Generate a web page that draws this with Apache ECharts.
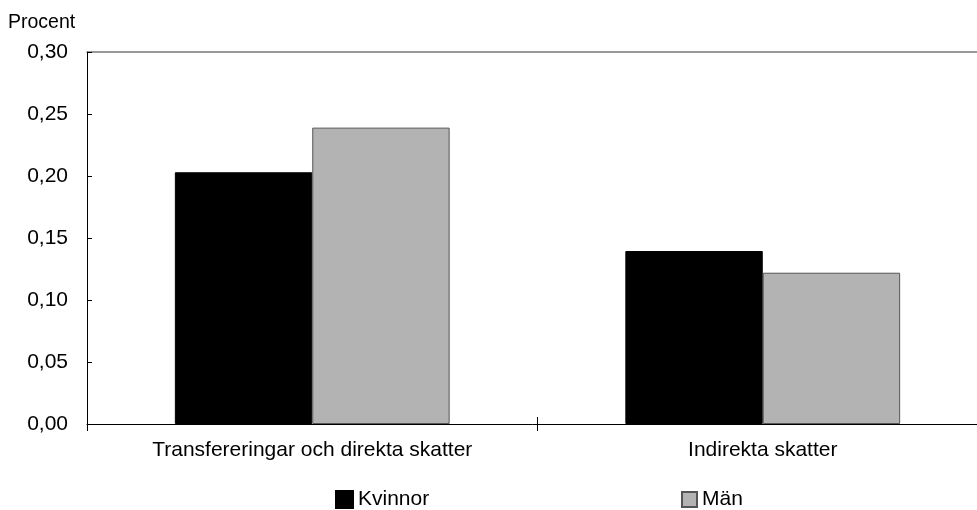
<!DOCTYPE html>
<html><head><meta charset="utf-8">
<script src="https://cdn.jsdelivr.net/npm/echarts@6/dist/echarts.min.js"></script>
<style>html,body{margin:0;padding:0;background:#fff}#c{width:977px;height:510px}</style>
</head><body><div id="c"></div>
<script>
const categories = ['Transfereringar och direkta skatter', 'Indirekta skatter'];
const kvinnor = [0.203, 0.1395];
const man = [0.239, 0.122];
const seriesNames = ['Kvinnor', 'Män'];
const yTicks = [0, 0.05, 0.10, 0.15, 0.20, 0.25, 0.30];

const FONT = '"Liberation Sans", Arial, sans-serif';
const chart = echarts.init(document.getElementById('c'));
chart.setOption({
  backgroundColor: '#fff',
  animation: false,
  textStyle: { fontFamily: FONT },
  title: { text: 'Procent', left: 3, top: 8, textStyle: { fontFamily: FONT, fontSize: 19.5, fontWeight: 'normal', color: '#000' } },
  grid: { left: 87, top: 52, width: 901, height: 372, outerBoundsMode: 'none', containLabel: false },
  legend: [
    { data: [seriesNames[0]], left: 330, top: 484, icon: 'rect', itemWidth: 17, itemHeight: 17, itemGap: 6,
      textStyle: { fontFamily: FONT, fontSize: 21, color: '#000', padding: [4, 0, 0, 0] } },
    { data: [seriesNames[1]], left: 676, top: 484, icon: 'rect', itemWidth: 15, itemHeight: 15, itemGap: 6,
      textStyle: { fontFamily: FONT, fontSize: 21, color: '#000', padding: [4, 0, 0, 0] } }
  ],
  xAxis: [
    { type: 'category', data: categories, position: 'bottom',
      axisLine: { lineStyle: { color: '#000', width: 1 } },
      axisTick: { show: true, length: 7, lineStyle: { color: '#000' } },
      axisLabel: { fontFamily: FONT, fontSize: 21, color: '#000', margin: 16 } },
    { type: 'category', data: categories, position: 'bottom',
      axisLine: { show: false },
      axisTick: { show: true, inside: true, length: 7, lineStyle: { color: '#000' } },
      axisLabel: { show: false } },
    { type: 'category', data: categories, position: 'top',
      axisLine: { lineStyle: { color: '#777', width: 1.5 } },
      axisTick: { show: false }, axisLabel: { show: false } }
  ],
  yAxis: {
    type: 'value', min: yTicks[0], max: yTicks[yTicks.length - 1], interval: 0.05,
    axisLine: { show: true, lineStyle: { color: '#000', width: 1 } },
    axisTick: { show: true, inside: true, length: 5, lineStyle: { color: '#000' } },
    splitLine: { show: false },
    axisLabel: { fontFamily: FONT, fontSize: 21, color: '#000', margin: 19,
      formatter: v => v.toFixed(2).replace('.', ',') }
  },
  series: [
    { name: seriesNames[0], type: 'bar', xAxisIndex: 0, data: kvinnor, barGap: '0%', barCategoryGap: '39%',
      itemStyle: { color: '#000', borderColor: '#000', borderWidth: 1 } },
    { name: seriesNames[1], type: 'bar', xAxisIndex: 0, data: man, barGap: '0%', barCategoryGap: '39%',
      itemStyle: { color: '#b3b3b3', borderColor: '#555', borderWidth: 1 } }
  ]
});
</script></body></html>
